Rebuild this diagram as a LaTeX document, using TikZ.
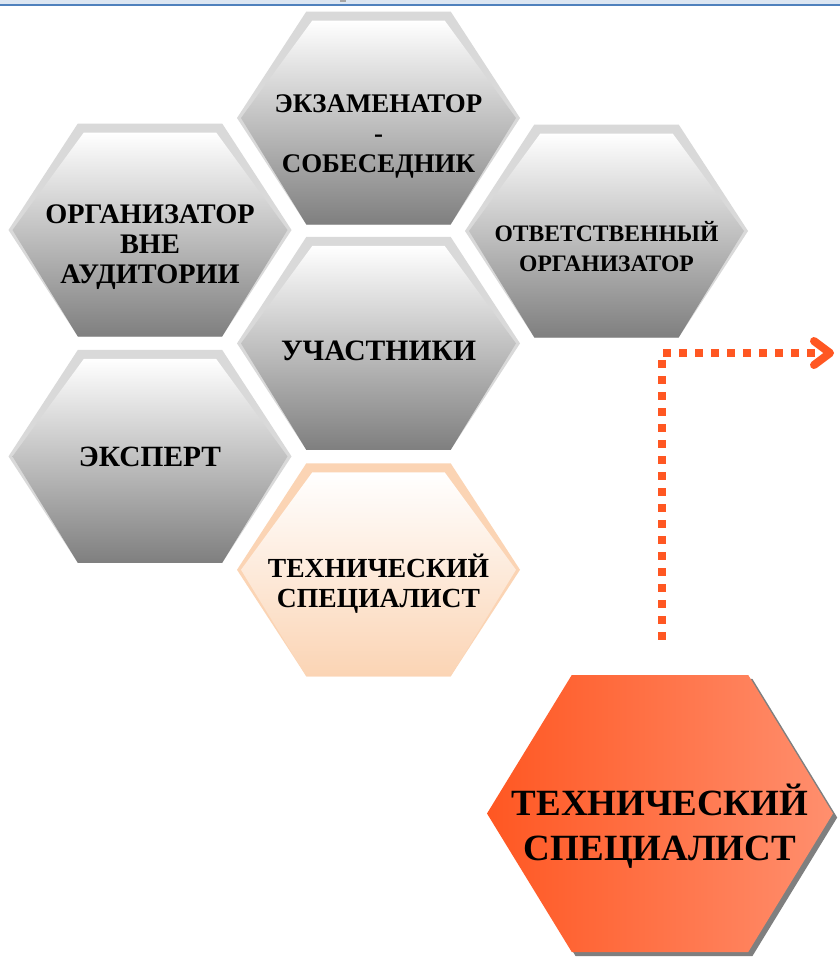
\documentclass[tikz,border=0pt]{standalone}
\usepackage{fontspec}
\setmainfont{Liberation Serif}
\usetikzlibrary{arrows.meta, positioning, calc, backgrounds}

\definecolor{cellrim}{HTML}{D9D9D9}
\definecolor{cellgray}{HTML}{7F7F7F}
\definecolor{peachrim}{HTML}{FBD4B4}
\definecolor{techleft}{HTML}{FF5722}
\definecolor{techright}{HTML}{FF8F6E}
\definecolor{dotorange}{HTML}{FF5722}
\definecolor{bandblue}{HTML}{DCE6F2}
\definecolor{bandline}{HTML}{4F81BD}

% hexagon outline from the anchors of a node, moved by an offset
\newcommand{\hexpath}[2]{%
  ($(#2.west)+(#1)$) --
  ($(#2.north west)!0.245!(#2.north east)+(#1)$) --
  ($(#2.north east)!0.245!(#2.north west)+(#1)$) --
  ($(#2.east)+(#1)$) --
  ($(#2.south east)!0.245!(#2.south west)+(#1)$) --
  ($(#2.south west)!0.245!(#2.south east)+(#1)$) -- cycle}
% inner (shaded) hexagon, rim left on top and upper sides
\newcommand{\hexinner}[1]{%
  ([xshift=4pt]#1.west) --
  ($(#1.north west)!0.245!(#1.north east)+(6,9)$) --
  ($(#1.north east)!0.245!(#1.north west)+(-6,9)$) --
  ([xshift=-4pt]#1.east) --
  ($(#1.south east)!0.245!(#1.south west)$) --
  ($(#1.south west)!0.245!(#1.south east)$) -- cycle}

\begin{document}
\begin{tikzpicture}[x=1pt, y=-1pt,
    % grey cell of the honeycomb
    graycell/.style={rectangle, minimum width=283pt, minimum height=213pt, inner sep=0pt,
        path picture={
            \fill[cellrim] \hexpath{0,0}{path picture bounding box};
            \shade[top color=white, bottom color=cellgray] \hexinner{path picture bounding box};}},
    % highlighted (peach) cell
    peachcell/.style={rectangle, minimum width=283pt, minimum height=213pt, inner sep=0pt,
        path picture={
            \fill[peachrim] \hexpath{0,0}{path picture bounding box};
            \shade[top color=white, bottom color=peachrim] \hexinner{path picture bounding box};}},
    % big orange cell
    bigcell/.style={rectangle, minimum width=346pt, minimum height=277pt, inner sep=0pt,
        path picture={
            \shade[left color=techleft, right color=techright] \hexpath{0,0}{path picture bounding box};}},
    % cell labels
    celltext/.style={font=\bfseries\fontsize{#1}{30}\selectfont, align=center, inner sep=0pt},
    celltext/.default=27,
    bigtext/.style={font=\bfseries\fontsize{37}{45}\selectfont, align=center, inner sep=0pt},
    % dotted arrow
    dotline/.style={dotorange, line width=8pt, dash pattern=on 8pt off 8pt,
        -{Straight Barb[length=16pt, width=24pt, round]}}
]
    \useasboundingbox (0,0) rectangle (840,959);

    % header band
    \fill[bandblue] (0,0) rectangle (840,4);
    \draw[bandline, line width=2pt] (0,5) -- (840,5);
    \fill[gray!70] (340,0) rectangle (346,2);

    % middle column
    \node[graycell] (examiner) at (378.5,118) {};
    \node[celltext=26.9] (examinerlbl) at ([yshift=-18pt]examiner.center) {ЭКЗАМЕНАТОР\\-\\СОБЕСЕДНИК};
    \node[graycell, below=12pt of examiner] (participants) {};
    \node[celltext=29.6] (participantslbl) at ([yshift=-7pt]participants.center) {УЧАСТНИКИ};
    \node[peachcell, below=13pt of participants] (techsmall) {};
    \node[celltext=27.6] (techsmalllbl) at ([yshift=-14pt]techsmall.center) {ТЕХНИЧЕСКИЙ\\СПЕЦИАЛИСТ};

    % left column
    \node[graycell] (orgout) at (150,230) {};
    \node[celltext=28.3] (orgoutlbl) at ([yshift=-17pt]orgout.center) {ОРГАНИЗАТОР\\ВНЕ\\АУДИТОРИИ};
    \node[graycell, below=13pt of orgout] (expert) {};
    \node[celltext=29.4] (expertlbl) at ([yshift=-1pt]expert.center) {ЭКСПЕРТ};

    % right column
    \node[graycell] (chief) at (606.5,231) {};
    \node[celltext=23.6] (chieflbl) at ([yshift=-16pt]chief.center) {ОТВЕТСТВЕННЫЙ\\ОРГАНИЗАТОР};

    % big cell
    \node[bigcell] (techbig) at (660,813.5) {};
    \node[bigtext] (techbiglbl) at ([yshift=-13pt]techbig.center) {ТЕХНИЧЕСКИЙ\\СПЕЦИАЛИСТ};

    % white page and shadow of the big cell
    \begin{scope}[on background layer]
        \fill[white] (0,0) rectangle (840,959);
        \fill[cellgray] \hexpath{4,4}{techbig};
    \end{scope}

    % dotted arrow
    \coordinate (dotstart) at ([xshift=2pt, yshift=35pt]techbig.north);
    \coordinate (dotend) at (834,353);
    \draw[dotline] (dotstart) |- (dotend);
\end{tikzpicture}
\end{document}
